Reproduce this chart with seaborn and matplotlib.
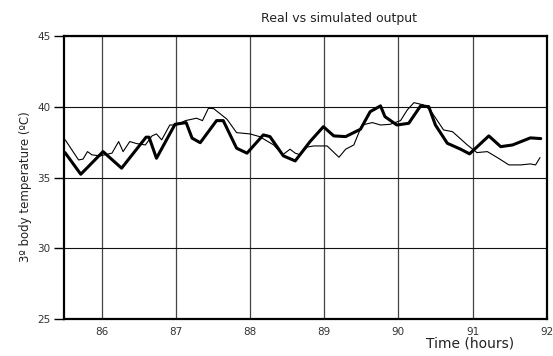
import matplotlib
matplotlib.use("Agg")
import matplotlib.pyplot as plt
import seaborn as sns
import pandas as pd

# Simulated output (thick line)
sim_hours = [85.507, 85.72, 86.02, 86.27, 86.60, 86.64, 86.74, 86.99, 87.14, 87.22,
             87.33, 87.55, 87.64, 87.82, 87.96, 88.18, 88.27, 88.45, 88.61, 88.81,
             88.99, 89.13, 89.29, 89.49, 89.62, 89.76, 89.82, 89.98, 90.14, 90.30,
             90.41, 90.50, 90.66, 90.84, 90.96, 91.22, 91.38, 91.54, 91.78, 91.92]
sim_temp = [36.76, 35.23, 36.83, 35.66, 37.85, 37.85, 36.36, 38.76, 38.88, 37.78,
            37.46, 39.02, 39.02, 37.07, 36.72, 38.01, 37.89, 36.53, 36.17, 37.54,
            38.59, 37.94, 37.89, 38.41, 39.65, 40.06, 39.30, 38.71, 38.83, 40.06,
            40.01, 38.71, 37.42, 37.00, 36.67, 37.94, 37.18, 37.30, 37.80, 37.75]

# Real output (thin line)
real_hours = [85.51, 85.69, 85.75, 85.81, 85.87, 85.98, 86.14, 86.23, 86.29, 86.38,
              86.47, 86.59, 86.68, 86.74, 86.81, 86.92, 87.01, 87.13, 87.28, 87.36,
              87.44, 87.51, 87.69, 87.82, 88.00, 88.13, 88.32, 88.44, 88.54, 88.61,
              88.68, 88.77, 88.86, 89.04, 89.20, 89.29, 89.40, 89.51, 89.65, 89.76,
              89.89, 90.03, 90.12, 90.21, 90.34, 90.43, 90.61, 90.73, 90.93, 91.06,
              91.20, 91.35, 91.49, 91.65, 91.78, 91.85, 91.91]
real_temp = [37.66, 36.24, 36.30, 36.83, 36.60, 36.53, 36.72, 37.54, 36.83, 37.54,
             37.40, 37.30, 37.94, 38.08, 37.66, 38.71, 38.71, 39.02, 39.19, 39.02,
             39.89, 39.87, 39.12, 38.17, 38.08, 37.89, 37.30, 36.60, 37.00, 36.72,
             36.60, 37.15, 37.23, 37.23, 36.43, 37.00, 37.30, 38.71, 38.88, 38.71,
             38.76, 39.02, 39.77, 40.29, 40.13, 39.77, 38.36, 38.24, 37.30, 36.76,
             36.83, 36.36, 35.89, 35.89, 35.96, 35.89, 36.41]

x_ticks = [86, 87, 88, 89, 90, 91, 92]
y_ticks = [25, 30, 35, 40, 45]

sns.set_style("white")
plt.rcParams['font.family'] = ['DejaVu Sans']

fig = plt.figure(figsize=(5.53, 3.56), dpi=100)
ax = fig.add_axes([0.1166, 0.1039, 0.872, 0.795])

df_real = pd.DataFrame({"hour": real_hours, "temp": real_temp})
df_sim = pd.DataFrame({"hour": sim_hours, "temp": sim_temp})

sns.lineplot(data=df_real, x="hour", y="temp", ax=ax, color="black", lw=0.8, zorder=3)
sns.lineplot(data=df_sim, x="hour", y="temp", ax=ax, color="black", lw=2.2, zorder=4)

ax.set_xlim(85.5, 92)
ax.set_ylim(25, 45)
ax.set_xticks(x_ticks)
ax.set_yticks(y_ticks)
ax.set_xticklabels([str(t) for t in x_ticks])
ax.set_yticklabels([str(t) for t in y_ticks])
ax.grid(True, axis="y", color="#111111", lw=0.8)
ax.grid(True, axis="x", color="#444444", lw=0.9)
ax.set_axisbelow(True)
for s in ax.spines.values():
    s.set_color("black")
    s.set_linewidth(1.6)
    s.set_visible(True)
ax.tick_params(axis="y", length=7, width=1, color="black", labelsize=7.5, labelcolor="#333333", pad=3, left=True)
ax.tick_params(axis="x", length=0, labelsize=7.5, labelcolor="#333333", pad=6)
ax.set_xlabel("")
ax.set_ylabel("")

fig.text(0.613, 0.948, "Real vs simulated output", ha="center", va="center", fontsize=9, color="#222222")
fig.text(0.85, 0.035, "Time (hours)", ha="center", va="center", fontsize=10, color="#222222")
fig.text(0.047, 0.475, "3º body temperature (ºC)", ha="center", va="center", rotation=90, fontsize=8.5, color="#222222")

fig.savefig("out.png", dpi=100)
